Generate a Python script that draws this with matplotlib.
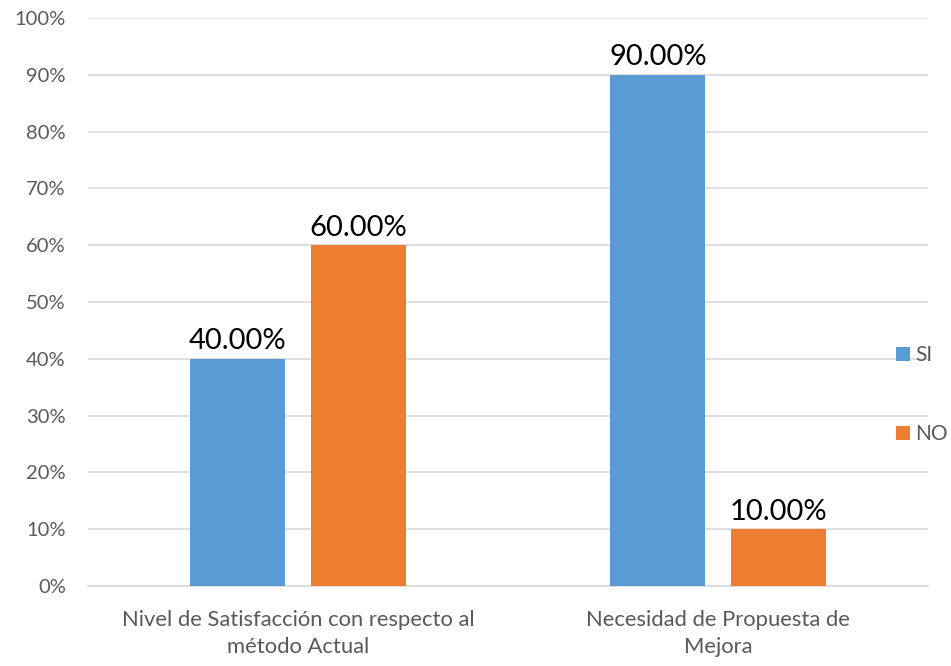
import numpy as np
import matplotlib.pyplot as plt
from matplotlib.ticker import FuncFormatter

categories = ["Nivel de Satisfacción con respecto al\nmétodo Actual",
              "Necesidad de Propuesta de\nMejora"]
si_vals = [40.0, 90.0]
no_vals = [60.0, 10.0]
series = ["SI", "NO"]

plt.rcParams['font.family'] = ['Lato', 'DejaVu Sans']
grey = '#595959'

fig = plt.figure(figsize=(9.51, 6.66), dpi=100)
ax = fig.add_axes([88/951, 1 - 586/666, (928 - 88)/951, (586 - 18)/666])

x = np.arange(len(categories))
w = 0.226
off = 0.143
b1 = ax.bar(x - off, si_vals, w, color='#5B9BD5', label=series[0], zorder=3)
b2 = ax.bar(x + off, no_vals, w, color='#ED7D31', label=series[1], zorder=3)

for bars, vals in ((b1, si_vals), (b2, no_vals)):
    for b, v in zip(bars, vals):
        ax.text(b.get_x() + b.get_width() / 2, v + 0.8, f"{v:.2f}%",
                ha='center', va='bottom', fontsize=21, color='black')

ax.set_xlim(-0.5, 1.5)
ax.set_ylim(0, 100)
ax.set_yticks(np.arange(0, 101, 10))
ax.yaxis.set_major_formatter(FuncFormatter(lambda v, p: f"{v:.0f}%"))
ax.set_xticks(x)
ax.set_xticklabels(categories, fontsize=15.8, color=grey, linespacing=1.45)
ax.tick_params(axis='y', labelsize=14.5, labelcolor=grey, length=0, pad=16)
ax.tick_params(axis='x', length=0, pad=17)
ax.grid(axis='y', color='#d9d9d9', linewidth=1.2, zorder=0)
for s in ('top', 'right', 'left'):
    ax.spines[s].set_visible(False)
ax.spines['bottom'].set_color('#d9d9d9')
ax.spines['bottom'].set_linewidth(1.2)

leg = ax.legend(loc='center left', bbox_to_anchor=(0.94, 0.337), frameon=False,
                fontsize=15, handlelength=0.65, handleheight=0.65,
                handletextpad=0.25, labelspacing=2.85)
for t in leg.get_texts():
    t.set_color(grey)

fig.savefig('out.png', dpi=100)
